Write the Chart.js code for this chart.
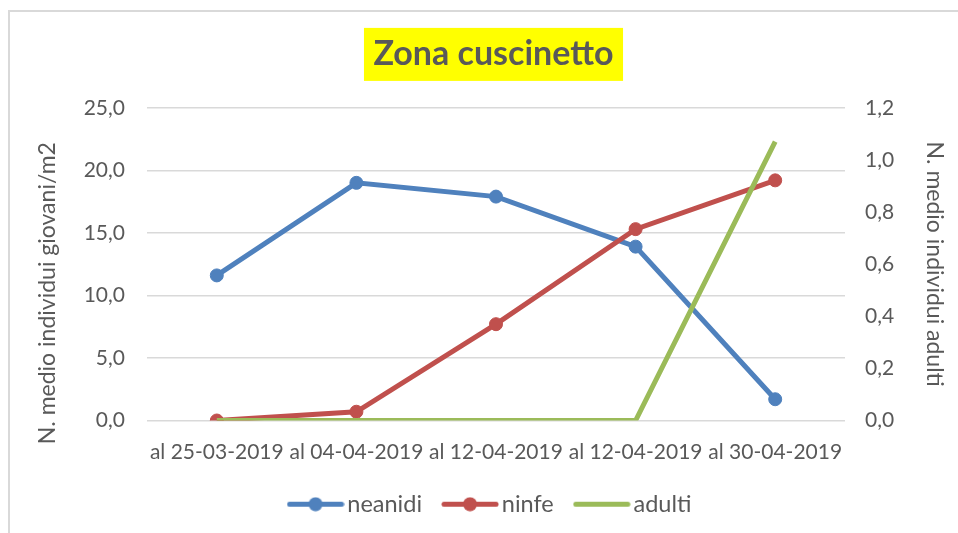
<!DOCTYPE html>
<html>
<head>
<meta charset="utf-8">
<title>Zona cuscinetto</title>
<script src="https://cdn.jsdelivr.net/npm/chart.js@4.4.1/dist/chart.umd.min.js"></script>
<style>
  html, body { margin: 0; padding: 0; overflow: hidden; background: #fff; }
  #wrap { position: relative; width: 958px; height: 533px; }
  #frame { position: absolute; left: 8px; top: 10px; width: 1000px; height: 600px; border: 2px solid #d9d9d9; box-sizing: border-box; }
  #myChart { position: absolute; left: 0; top: 0; }
</style>
</head>
<body>
<div id="wrap">
  <div id="frame"></div>
  <canvas id="myChart" width="958" height="533"></canvas>
</div>
<script>
// Data
const categories = ['al 25-03-2019', 'al 04-04-2019', 'al 12-04-2019', 'al 12-04-2019', 'al 30-04-2019'];
const neanidi = [11.6, 19.0, 17.9, 13.9, 1.7];
const ninfe = [0.0, 0.7, 7.7, 15.3, 19.2];
const adulti = [0, 0, 0, 0, 1.07];
const leftTicks = [0, 5, 10, 15, 20, 25];
const rightTicks = [0, 0.2, 0.4, 0.6, 0.8, 1.0, 1.2];

const textColor = '#595959';
const gridColor = '#d9d9d9';
const fontFamily = 'Lato, "Open Sans", sans-serif';

Chart.defaults.font.family = fontFamily;
Chart.defaults.font.size = 21;
Chart.defaults.color = textColor;

const fmt = v => Number(v).toFixed(1).replace('.', ',');

// legend swatch: line with optional marker
function swatch(color, marker) {
  const c = document.createElement('canvas');
  c.width = 58;
  c.height = 15;
  const g = c.getContext('2d');
  g.strokeStyle = color;
  g.lineWidth = 5;
  g.lineCap = 'round';
  g.beginPath();
  g.moveTo(3, 7.5);
  g.lineTo(55, 7.5);
  g.stroke();
  if (marker) {
    g.fillStyle = color;
    g.beginPath();
    g.arc(29, 7.5, 7, 0, Math.PI * 2);
    g.fill();
  }
  return c;
}

// yellow box behind the chart title + left axis title
const decor = {
  id: 'decor',
  beforeDraw(chart) {
    const ctx = chart.ctx;
    const tb = chart.titleBlock;
    const opts = chart.options.plugins.title;
    ctx.save();
    ctx.font = `bold ${opts.font.size}px ${fontFamily}`;
    const w = ctx.measureText(opts.text).width;
    const cx = (tb.left + tb.right) / 2;
    const cy = tb.top + opts.padding.top + opts.font.size * 1.2 / 2;
    ctx.fillStyle = '#ffff00';
    ctx.fillRect(cx - w / 2 - 9.5, cy - 26.5, w + 19, 53);
    ctx.restore();
  },
  afterDraw(chart) {
    const ctx = chart.ctx;
    const s = chart.scales.y;
    const area = chart.chartArea;
    ctx.save();
    ctx.font = `23px ${fontFamily}`;
    ctx.fillStyle = textColor;
    ctx.textAlign = 'center';
    ctx.textBaseline = 'middle';
    ctx.translate(s.left + 9, (area.top + area.bottom) / 2 + 29);
    ctx.rotate(-Math.PI / 2);
    ctx.fillText('N. medio individui giovani/m2', 0, 0);
    ctx.restore();
  }
};

const ctx = document.getElementById('myChart');

const myChart = new Chart(ctx, {
  type: 'line',
  data: {
    labels: categories,
    datasets: [{
      label: 'neanidi',
      data: neanidi,
      yAxisID: 'y',
      borderColor: '#4f81bd',
      backgroundColor: '#4f81bd',
      pointBackgroundColor: '#4f81bd',
      borderWidth: 5,
      pointRadius: 6.5,
      pointBorderWidth: 1,
      order: 3,
      marker: true
    }, {
      label: 'ninfe',
      data: ninfe,
      yAxisID: 'y',
      borderColor: '#c0504d',
      backgroundColor: '#c0504d',
      pointBackgroundColor: '#c0504d',
      borderWidth: 5,
      pointRadius: 6.5,
      pointBorderWidth: 1,
      order: 2,
      marker: true
    }, {
      label: 'adulti',
      data: adulti,
      yAxisID: 'y1',
      borderColor: '#9bbb59',
      backgroundColor: '#9bbb59',
      borderWidth: 5,
      pointRadius: 0,
      order: 1,
      marker: false
    }]
  },
  options: {
    responsive: false,
    animation: false,
    layout: {
      padding: { top: 34, left: 39, right: 10, bottom: 7 }
    },
    scales: {
      x: {
        offset: true,
        grid: { display: false },
        border: { display: false },
        afterFit: s => { s.height = 44; },
        ticks: { padding: 11, maxRotation: 0, autoSkip: false }
      },
      y: {
        position: 'left',
        min: 0,
        max: 25,
        afterBuildTicks: s => { s.ticks = leftTicks.map(v => ({ value: v })); },
        afterFit: s => { s.width = 108; },
        ticks: { padding: 22, callback: fmt },
        grid: { color: gridColor, lineWidth: 1.5, drawTicks: false },
        border: { display: false }
      },
      y1: {
        position: 'right',
        min: 0,
        max: 1.2,
        afterBuildTicks: s => { s.ticks = rightTicks.map(v => ({ value: v })); },
        afterFit: s => { s.width = 103; },
        ticks: { padding: 20, callback: fmt },
        grid: { display: false, drawTicks: false },
        border: { display: false },
        title: {
          display: true,
          text: 'N. medio individui adulti',
          padding: 0,
          font: { size: 23 }
        }
      }
    },
    plugins: {
      title: {
        display: true,
        text: 'Zona cuscinetto',
        color: textColor,
        font: { size: 34, weight: 'bold' },
        padding: { top: 0, bottom: 33 }
      },
      legend: {
        position: 'bottom',
        labels: {
          usePointStyle: true,
          pointStyleWidth: 40,
          padding: 28,
          color: textColor,
          font: { size: 23.5 },
          generateLabels: chart => chart.data.datasets.map((ds, i) => ({
            text: ds.label,
            pointStyle: swatch(ds.borderColor, ds.marker),
            fillStyle: ds.borderColor,
            strokeStyle: ds.borderColor,
            lineWidth: 0,
            fontColor: textColor,
            hidden: false,
            datasetIndex: i
          }))
        }
      },
      tooltip: { enabled: false }
    }
  },
  plugins: [decor]
});
</script>
</body>
</html>
